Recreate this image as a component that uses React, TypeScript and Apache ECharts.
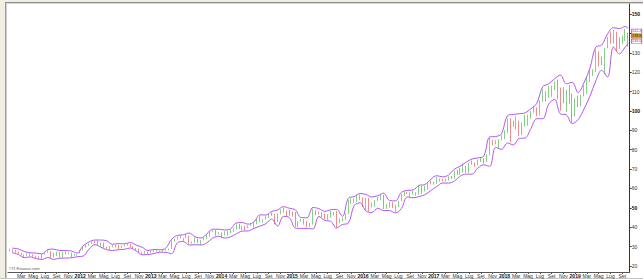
import React, { useEffect, useRef } from "react";
import * as echarts from "echarts";

// Italian month abbreviations used on the time axis
const monthNames = ["Gen", "Feb", "Mar", "Apr", "Mag", "Giu", "Lug", "Ago", "Set", "Ott", "Nov", "Dic"];
const firstYear = 2011;

// Half-month candles: [open, high, low, close]
const ohlc2011 = [
  [27.8, 28.9, 27.6, 28.4], [28.4, 28.6, 27.0, 27.7],
  [27.8, 28.3, 27.0, 27.2], [27.2, 27.3, 26.3, 26.6],
  [26.6, 26.8, 25.5, 25.6], [25.6, 25.9, 24.3, 25.4],
  [25.5, 26.6, 25.3, 25.6], [25.6, 26.4, 25.0, 26.0],
  [26.0, 26.0, 24.8, 25.0], [25.0, 25.2, 24.1, 25.0],
  [25.0, 25.0, 23.7, 24.3], [24.3, 26.0, 23.8, 26.0],
  [26.0, 27.0, 25.9, 26.9], [26.9, 28.1, 26.8, 27.4],
  [27.5, 27.6, 23.8, 25.0], [25.0, 26.8, 24.4, 26.6],
  [26.6, 27.5, 25.0, 27.1], [27.1, 27.2, 24.3, 24.9],
  [24.9, 27.3, 24.3, 27.2], [27.2, 27.4, 26.0, 26.6],
  [26.0, 27.0, 26.0, 26.7], [26.7, 26.8, 24.3, 25.6],
  [25.6, 26.2, 25.2, 25.8], [25.8, 26.1, 25.3, 26.0],
];
const ohlc2012 = [
  [26.5, 28.3, 26.4, 28.1], [28.1, 29.95, 28.0, 29.5],
  [29.8, 30.9, 29.5, 30.7], [30.7, 31.6, 30.4, 31.7],
  [31.9, 32.6, 31.5, 32.6], [32.6, 32.95, 31.9, 32.3],
  [32.3, 32.9, 30.6, 31.0], [31.0, 32.2, 30.0, 32.0],
  [32.0, 32.1, 29.4, 29.7], [29.7, 29.9, 28.9, 29.2],
  [29.3, 30.2, 28.3, 30.0], [30.0, 30.8, 29.6, 30.6],
  [30.6, 31.0, 29.5, 29.7], [29.7, 31.0, 28.5, 29.5],
  [29.5, 30.5, 29.2, 30.4], [30.4, 31.0, 30.0, 30.8],
  [30.8, 31.6, 30.5, 31.2], [31.2, 31.3, 29.7, 29.8],
  [29.8, 30.1, 28.9, 29.2], [29.2, 29.3, 28.3, 28.5],
  [28.5, 29.0, 26.8, 27.0], [27.0, 27.3, 26.3, 26.6],
  [26.6, 27.7, 26.3, 27.0], [27.0, 27.5, 26.3, 26.7],
];
const ohlc2013 = [
  [27.3, 27.9, 26.9, 27.3], [27.3, 28.2, 27.2, 27.5],
  [27.6, 28.0, 27.3, 27.8], [27.8, 28.0, 27.3, 27.8],
  [27.8, 28.3, 27.5, 28.1], [28.1, 28.7, 27.9, 28.6],
  [28.6, 29.0, 28.1, 28.8], [28.8, 33.1, 28.7, 33.1],
  [33.0, 34.0, 32.6, 34.0], [34.0, 35.3, 33.6, 34.9],
  [34.9, 35.8, 34.3, 34.5], [34.5, 34.6, 32.6, 34.5],
  [34.5, 36.4, 34.4, 35.6], [35.6, 35.7, 31.4, 31.8],
  [31.8, 32.6, 31.5, 32.3], [32.3, 34.7, 31.9, 33.4],
  [33.4, 34.0, 31.8, 32.0], [32.0, 33.4, 31.1, 33.3],
  [33.3, 34.7, 33.2, 34.6], [34.6, 36.3, 33.8, 35.4],
  [35.4, 38.3, 35.1, 37.8], [37.8, 38.5, 37.4, 38.1],
  [38.1, 38.6, 35.6, 36.6], [36.6, 37.5, 36.2, 37.4],
];
const ohlc2014 = [
  [37.4, 37.4, 34.6, 36.4], [36.4, 37.9, 35.8, 37.8],
  [37.8, 38.0, 35.7, 37.5], [37.5, 38.5, 37.0, 38.3],
  [38.3, 39.5, 37.6, 39.6], [39.6, 41.5, 38.8, 41.0],
  [41.0, 41.7, 39.0, 40.1], [40.1, 40.8, 38.5, 40.4],
  [40.4, 40.6, 38.5, 39.8], [39.8, 41.0, 39.6, 40.9],
  [40.9, 41.5, 40.6, 41.2], [41.2, 42.3, 39.7, 41.7],
  [41.7, 44.3, 41.5, 44.1], [44.1, 45.7, 42.7, 43.2],
  [43.2, 44.2, 42.3, 44.3], [44.3, 45.7, 44.0, 45.4],
  [45.4, 46.9, 44.7, 46.7], [46.7, 47.6, 45.9, 46.4],
  [46.3, 46.8, 41.5, 42.7], [42.7, 47.0, 42.6, 46.95],
  [46.9, 49.2, 46.7, 48.7], [48.7, 50.0, 47.5, 47.8],
  [47.9, 48.7, 45.5, 46.7], [46.7, 49.0, 46.0, 46.45],
];
const ohlc2015 = [
  [46.7, 48.0, 45.5, 46.2], [46.2, 47.9, 40.2, 40.4],
  [40.6, 43.2, 40.2, 43.1], [43.1, 44.3, 42.9, 43.9],
  [43.7, 44.2, 41.4, 41.4], [41.4, 43.2, 40.0, 40.7],
  [40.6, 42.3, 40.1, 41.6], [41.6, 49.5, 41.3, 48.6],
  [48.6, 48.8, 46.2, 47.8], [47.8, 48.0, 46.6, 46.9],
  [47.0, 47.8, 45.2, 45.9], [45.9, 47.0, 44.1, 44.2],
  [44.5, 46.7, 43.8, 46.6], [46.6, 48.4, 45.1, 46.7],
  [46.7, 47.8, 46.0, 47.0], [47.0, 48.4, 39.7, 43.5],
  [43.3, 44.5, 42.0, 43.5], [43.5, 45.0, 42.9, 44.3],
  [44.8, 47.2, 43.8, 47.0], [47.0, 54.0, 46.7, 52.6],
  [52.4, 54.98, 52.0, 53.7], [53.7, 54.8, 52.5, 54.35],
  [54.4, 56.85, 53.0, 55.1], [55.1, 56.8, 54.0, 55.5],
];
const ohlc2016 = [
  [54.3, 55.4, 50.4, 50.9], [50.9, 55.1, 49.1, 55.1],
  [54.9, 55.1, 48.2, 50.5], [50.5, 52.6, 50.2, 50.9],
  [50.9, 54.0, 50.6, 53.6], [53.6, 55.6, 53.5, 55.2],
  [55.1, 56.8, 54.0, 56.4], [56.4, 56.8, 49.4, 49.9],
  [50.0, 52.0, 49.5, 51.0], [51.0, 53.0, 50.0, 53.0],
  [52.4, 52.95, 49.8, 50.1], [50.1, 51.6, 48.0, 51.2],
  [51.1, 53.7, 50.4, 53.7], [53.7, 57.3, 53.4, 56.7],
  [56.6, 58.5, 56.1, 57.9], [57.9, 58.2, 57.1, 57.5],
  [57.0, 58.0, 55.6, 57.2], [57.2, 58.7, 56.8, 57.6],
  [57.4, 58.0, 56.3, 57.3], [57.3, 61.4, 56.8, 59.9],
  [59.8, 61.4, 57.3, 58.7], [58.7, 61.3, 58.4, 60.3],
  [60.1, 63.0, 59.4, 62.6], [62.6, 64.1, 62.1, 62.1],
];
const ohlc2017 = [
  [62.8, 63.4, 61.95, 62.7], [62.7, 65.9, 62.4, 64.65],
  [64.4, 65.2, 63.6, 64.5], [64.5, 65.0, 63.6, 63.98],
  [64.1, 65.2, 63.6, 64.8], [64.8, 66.2, 64.1, 65.9],
  [65.8, 66.4, 64.9, 65.0], [65.0, 69.1, 64.9, 68.5],
  [68.7, 69.6, 67.1, 68.4], [68.4, 70.7, 67.1, 69.8],
  [70.2, 72.9, 68.1, 70.6], [70.6, 71.7, 68.1, 68.9],
  [69.3, 73.3, 68.0, 73.2], [73.2, 74.4, 72.3, 72.7],
  [73.1, 73.4, 71.3, 72.5], [72.5, 74.96, 72.0, 74.8],
  [74.7, 75.97, 73.7, 75.2], [75.2, 75.6, 72.9, 74.5],
  [74.7, 77.7, 73.6, 77.6], [77.6, 86.2, 77.0, 83.2],
  [83.7, 85.1, 82.2, 82.9], [82.9, 84.9, 82.8, 84.2],
  [83.6, 85.5, 80.7, 85.2], [85.2, 87.5, 84.8, 85.5],
];
const ohlc2018 = [
  [86.1, 90.1, 85.5, 89.6], [89.6, 96.1, 88.6, 95.0],
  [94.8, 96.1, 83.8, 92.0], [92.0, 95.0, 91.8, 93.8],
  [94.0, 97.2, 90.5, 94.6], [94.6, 95.0, 87.1, 91.3],
  [90.5, 94.0, 87.5, 93.1], [93.1, 97.9, 92.0, 93.5],
  [93.2, 98.0, 92.4, 97.2], [97.2, 99.99, 96.0, 98.8],
  [99.3, 102.7, 99.0, 100.1], [100.1, 101.9, 97.3, 98.6],
  [98.1, 105.6, 97.7, 105.2], [105.2, 111.2, 104.8, 106.1],
  [106.0, 110.2, 104.8, 107.7], [107.7, 112.8, 106.8, 112.3],
  [111.0, 113.0, 107.3, 113.2], [113.2, 115.3, 110.9, 114.4],
  [114.8, 116.2, 106.0, 110.7], [110.7, 112.0, 100.1, 106.8],
  [107.1, 112.2, 104.0, 104.6], [104.6, 111.0, 99.4, 110.9],
  [113.0, 113.4, 103.5, 106.0], [106.0, 109.0, 93.96, 101.6],
];
const ohlc2019 = [
  [99.6, 106.5, 97.2, 105.0], [105.0, 107.9, 102.0, 104.4],
  [103.8, 108.3, 102.4, 108.2], [108.2, 113.2, 107.5, 112.0],
  [112.9, 117.6, 108.8, 115.9], [115.9, 120.8, 115.0, 117.9],
  [118.95, 121.5, 118.1, 121.0], [121.0, 131.4, 120.0, 130.6],
  [130.5, 130.7, 123.0, 126.0], [126.0, 128.0, 123.6, 123.7],
  [123.9, 132.6, 119.0, 132.5], [132.5, 138.4, 132.3, 133.96],
  [136.6, 141.0, 134.7, 136.3], [136.3, 141.7, 134.8, 136.3],
  [137.0, 140.9, 130.8, 133.7], [133.7, 138.1, 132.0, 137.9],
  [136.6, 138.8, 134.5, 137.5], [137.5, 142.4, 136.0, 139.0],
  [139.7, 140.4, 133.2, 138.6],
];

// Bollinger bands, one reading per month (end of month), Jan 2011 .. Oct 2019
const bandUpper = [
  29.2, 28.8, 27.5, 26.8, 26.7, 26.2, 28.5, 28.7, 28.0, 28.0, 27.7, 26.7,
  30.4, 32.4, 33.4, 33.4, 33.0, 31.2, 31.6, 31.4, 32.1, 30.8, 29.7, 28.0,
  28.5, 28.4, 29.1, 33.7, 35.8, 36.1, 37.0, 35.1, 34.4, 36.6, 39.0, 39.0,
  38.6, 39.1, 42.2, 42.4, 41.6, 42.8, 46.4, 46.3, 48.2, 48.9, 50.6, 49.8,
  49.0, 45.0, 44.9, 50.2, 49.6, 48.2, 49.0, 49.2, 45.6, 54.9, 55.8, 57.4,
  56.9, 55.6, 56.3, 57.6, 53.8, 53.6, 58.0, 59.0, 59.2, 61.6, 62.0, 64.7,
  66.6, 66.0, 66.9, 70.0, 71.5, 73.6, 75.2, 75.8, 76.7, 86.6, 86.8, 88.2,
  97.5, 98.2, 98.6, 99.0, 101.2, 104.0, 112.5, 114.0, 116.6, 118.5, 114.0, 114.8,
  109.5, 114.6, 122.0, 133.0, 134.0, 139.8, 143.0, 142.5, 143.6, 142.5,
];
const bandLower = [
  26.8, 26.0, 24.3, 24.7, 23.8, 23.4, 24.4, 23.4, 24.0, 24.1, 24.2, 24.8,
  25.1, 28.7, 31.0, 29.7, 28.4, 28.0, 28.4, 28.6, 29.3, 27.8, 25.8, 25.9,
  26.4, 27.1, 27.1, 26.3, 32.0, 32.6, 30.8, 31.0, 30.8, 32.0, 34.4, 35.3,
  34.4, 35.0, 36.6, 38.0, 38.1, 39.4, 40.6, 41.8, 44.2, 40.6, 45.6, 45.0,
  39.6, 39.4, 39.4, 39.1, 45.6, 43.5, 43.1, 39.6, 41.4, 42.1, 51.2, 52.6,
  48.4, 47.6, 49.8, 48.6, 48.6, 47.4, 49.6, 55.6, 55.2, 55.8, 56.8, 58.9,
  61.0, 62.8, 62.8, 63.8, 66.4, 67.4, 67.4, 70.6, 72.2, 71.4, 81.2, 80.2,
  83.5, 82.5, 85.8, 86.0, 91.0, 96.0, 96.0, 103.5, 106.0, 98.5, 98.0, 93.5,
  95.5, 101.0, 107.5, 115.5, 121.0, 117.5, 133.0, 129.5, 133.0, 135.0,
];

// Last-value tags at the right edge: upper band, last price, lower band
const lastTags = [141.2, 138.6, 136.0];

// Y axis range
const yMin = 16.9;
const yMax = 155.2;

const candles = [
  ...ohlc2011, ...ohlc2012, ...ohlc2013, ...ohlc2014, ...ohlc2015,
  ...ohlc2016, ...ohlc2017, ...ohlc2018, ...ohlc2019,
];

// category = one half month
const categories: string[] = candles.map((_, i) => {
  const m = Math.floor(i / 2);
  const y = firstYear + Math.floor(m / 12);
  return `${y}-${m % 12}-${i % 2}`;
});
const lastIndex = candles.length - 1;

const bandIndex = (m: number) => Math.min(2 * m + 1, lastIndex);
const upperData: (number | null)[] = categories.map(() => null);
const lowerData: (number | null)[] = categories.map(() => null);
bandUpper.forEach((v, m) => { upperData[bandIndex(m)] = v; });
bandLower.forEach((v, m) => { lowerData[bandIndex(m)] = v; });

const labelInterval = (index: number) => index > 0 && index % 4 === 0;

export default function App() {
  const ref = useRef<HTMLDivElement>(null);
  useEffect(() => {
    if (!ref.current) return;
    const chart = echarts.init(ref.current, undefined, { renderer: "svg" });
    const font = "'Liberation Sans', Arial, sans-serif";
    const purple = "#b456f2";
    const tag = (value: number, bg: string, border: string, color: string) => ({
      silent: true,
      z: 30,
      data: [
        {
          coord: [lastIndex, value],
          symbol: "rect",
          symbolSize: [10, 4.4],
          symbolOffset: [8.5, 0],
          itemStyle: { color: bg, borderColor: border, borderWidth: 0.7 },
          label: {
            show: true,
            position: "inside",
            formatter: () => value.toFixed(1),
            fontSize: 3.6,
            fontFamily: font,
            color,
          },
        },
      ],
    });
    chart.setOption({
      animation: false,
      backgroundColor: "#ffffff",
      grid: { left: 8, right: 8, top: 4, bottom: 7, containLabel: false },
      xAxis: {
        type: "category",
        data: categories,
        boundaryGap: true,
        axisLine: { show: true, lineStyle: { color: "#555", width: 1 } },
        axisTick: { show: true, interval: labelInterval, alignWithLabel: true, length: 2, lineStyle: { color: "#555" } },
        axisLabel: {
          interval: labelInterval,
          margin: 1,
          fontSize: 5,
          fontFamily: font,
          color: "#333",
          formatter: (_v: string, index: number) => {
            const m = Math.floor(index / 2);
            const month = m % 12;
            if (month === 0) return `{y|${firstYear + Math.floor(m / 12)}}`;
            return monthNames[month];
          },
          rich: { y: { fontWeight: "bold", fontSize: 5, fontFamily: font, color: "#111" } },
        },
        splitLine: { show: false },
      },
      yAxis: {
        type: "value",
        position: "right",
        min: yMin,
        max: yMax,
        splitNumber: 14,
        scale: true,
        axisLine: { show: true, lineStyle: { color: "#333", width: 1 } },
        axisTick: { show: true, length: 2, lineStyle: { color: "#333" } },
        axisLabel: {
          margin: 2,
          fontSize: 5,
          fontFamily: font,
          color: "#333",
          showMinLabel: false,
          showMaxLabel: false,
          formatter: (v: number) => {
            const r = Math.round(v);
            if (Math.abs(v - r) > 0.01 || r % 10 !== 0) return "";
            // 140 lies under the last-value tags in the reference
            if (r === 140) return "";
            return r % 50 === 0 ? `{b|${r}}` : String(r);
          },
          rich: { b: { fontWeight: "bold", fontSize: 5, fontFamily: font, color: "#111" } },
        },
        splitLine: { show: false },
      },
      series: [
        {
          type: "candlestick",
          data: candles.map(([o, h, l, c]) => [o, c, l, h]),
          barWidth: 1.2,
          clip: false,
          z: 3,
          itemStyle: {
            color: "#5ad85a",
            color0: "#f26a6a",
            borderColor: "#34b034",
            borderColor0: "#dc4040",
            borderWidth: 0.6,
          },
          markPoint: tag(lastTags[1], "#e8a317", "#a87000", "#222"),
        },
        {
          type: "line",
          data: upperData,
          connectNulls: true,
          symbol: "none",
          smooth: 0.35,
          clip: false,
          z: 4,
          lineStyle: { color: purple, width: 1 },
          markPoint: tag(lastTags[0], "#ffffff", purple, "#8a30c8"),
        },
        {
          type: "line",
          data: lowerData,
          connectNulls: true,
          symbol: "none",
          smooth: 0.35,
          clip: false,
          z: 4,
          lineStyle: { color: purple, width: 1 },
          markPoint: tag(lastTags[2], "#ffffff", purple, "#8a30c8"),
        },
      ],
      graphic: [
        { type: "rect", left: 0, top: 0, shape: { width: 5, height: 279 }, style: { fill: "#f1eee3" }, silent: true },
        { type: "line", shape: { x1: 5.5, y1: 0, x2: 5.5, y2: 279 }, style: { stroke: "#9c9c9c", lineWidth: 1 }, silent: true },
        { type: "line", shape: { x1: 6.5, y1: 0, x2: 6.5, y2: 279 }, style: { stroke: "#cfcfcf", lineWidth: 1 }, silent: true },
        { type: "rect", left: 0, top: 0, shape: { width: 643, height: 2 }, style: { fill: "#f1eee3" }, silent: true },
        { type: "line", shape: { x1: 5, y1: 2.5, x2: 643, y2: 2.5 }, style: { stroke: "#8e8e8e", lineWidth: 1 }, silent: true },
        { type: "line", shape: { x1: 6, y1: 3.5, x2: 643, y2: 3.5 }, style: { stroke: "#d6d6d6", lineWidth: 1 }, silent: true },
        { type: "line", shape: { x1: 0, y1: 278.5, x2: 643, y2: 278.5 }, style: { stroke: "#c4c4c4", lineWidth: 1 }, silent: true },
        {
          type: "text",
          left: 9,
          top: 266,
          style: { text: "©IT-Finance.com", fontSize: 4, fontFamily: font, fill: "#555" },
          silent: true,
        },
      ],
    });
    return () => chart.dispose();
  }, []);
  return (
    <div
      ref={ref}
      style={{ position: "fixed", left: 0, top: 0, width: 643, height: 279, background: "#fff" }}
    />
  );
}
